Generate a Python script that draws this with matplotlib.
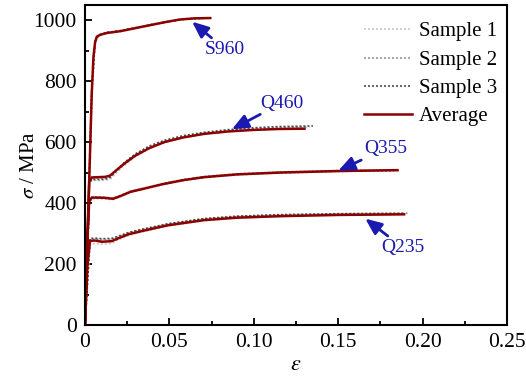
import matplotlib.pyplot as plt
from matplotlib.ticker import MultipleLocator, FixedFormatter, FixedLocator

plt.rcParams['font.family'] = ['Liberation Serif', 'DejaVu Serif']
plt.rcParams['mathtext.fontset'] = 'stix'

# Average curves (strain, stress in MPa)
s960_eps = [0, 0.002, 0.004, 0.005, 0.006, 0.007, 0.009, 0.013, 0.021, 0.030, 0.038, 0.047, 0.056, 0.065, 0.074]
s960_sig = [0, 380, 760, 880, 928, 946, 952, 958, 964, 974, 983, 993, 1002, 1006, 1007]

q460_eps = [0, 0.0015, 0.0025, 0.004, 0.008, 0.012, 0.0148, 0.018, 0.023, 0.0296, 0.038, 0.047, 0.058, 0.0705, 0.085, 0.100, 0.115, 0.130]
q460_sig = [0, 300, 470, 484, 485, 486, 490, 505, 528, 555, 580, 600, 615, 627, 635, 640, 643, 644]

q355_eps = [0, 0.0015, 0.0025, 0.004, 0.008, 0.012, 0.0166, 0.021, 0.027, 0.034, 0.046, 0.058, 0.0705, 0.090, 0.115, 0.150, 0.185]
q355_sig = [0, 290, 405, 418, 418, 417, 414, 423, 437, 446, 462, 475, 485, 494, 500, 505, 508]

q235_eps = [0, 0.0015, 0.003, 0.006, 0.010, 0.0158, 0.020, 0.026, 0.0336, 0.049, 0.0705, 0.090, 0.1155, 0.150, 0.189]
q235_sig = [0, 200, 276, 277, 273, 275, 285, 298, 308, 327, 344, 352, 357, 361, 363]

# Individual specimens (Sample 1, 2, 3)
s960_samples = [
    ([0, 0.002, 0.004, 0.006, 0.008, 0.013, 0.021, 0.030, 0.040, 0.050, 0.060, 0.072],
     [0, 370, 745, 925, 948, 957, 963, 973, 985, 996, 1004, 1006]),
    ([0, 0.002, 0.004, 0.006, 0.008, 0.013, 0.021, 0.030, 0.040, 0.050, 0.060, 0.074],
     [0, 385, 765, 930, 950, 959, 966, 976, 987, 997, 1005, 1008]),
    ([0, 0.002, 0.004, 0.006, 0.008, 0.013, 0.021, 0.030, 0.040, 0.050, 0.060, 0.075],
     [0, 390, 770, 932, 951, 960, 965, 975, 986, 996, 1004, 1007]),
]
q460_samples = [
    ([0, 0.0025, 0.004, 0.008, 0.012, 0.015, 0.018, 0.023, 0.030, 0.038, 0.047, 0.058, 0.0705, 0.085, 0.100, 0.115, 0.133],
     [0, 462, 474, 474, 475, 478, 496, 522, 552, 578, 598, 614, 626, 634, 640, 644, 648]),
    ([0, 0.0025, 0.004, 0.008, 0.012, 0.015, 0.018, 0.023, 0.030, 0.038, 0.047, 0.058, 0.0705, 0.085, 0.100, 0.115, 0.132],
     [0, 470, 480, 481, 482, 486, 502, 528, 557, 582, 602, 617, 629, 638, 644, 648, 650]),
    ([0, 0.0025, 0.004, 0.008, 0.012, 0.015, 0.018, 0.023, 0.030, 0.038, 0.047, 0.058, 0.0705, 0.085, 0.100, 0.115, 0.135],
     [0, 466, 477, 477, 478, 484, 504, 532, 562, 587, 606, 621, 632, 641, 647, 651, 653]),
]
q355_samples = [
    ([0, 0.0025, 0.004, 0.008, 0.012, 0.0166, 0.021, 0.027, 0.034, 0.046, 0.058, 0.0705, 0.090, 0.115, 0.150, 0.183],
     [0, 400, 414, 414, 413, 411, 421, 435, 444, 460, 473, 483, 492, 498, 503, 506]),
    ([0, 0.0025, 0.004, 0.008, 0.012, 0.0166, 0.021, 0.027, 0.034, 0.046, 0.058, 0.0705, 0.090, 0.115, 0.150, 0.186],
     [0, 408, 420, 420, 419, 416, 425, 439, 448, 464, 477, 487, 496, 502, 507, 509]),
    ([0, 0.0025, 0.004, 0.008, 0.012, 0.0166, 0.021, 0.027, 0.034, 0.046, 0.058, 0.0705, 0.090, 0.115, 0.150, 0.187],
     [0, 404, 417, 417, 416, 414, 423, 437, 446, 462, 475, 485, 494, 500, 505, 507]),
]
q235_samples = [
    ([0, 0.003, 0.006, 0.010, 0.0158, 0.020, 0.026, 0.0336, 0.049, 0.0705, 0.090, 0.1155, 0.150, 0.190],
     [0, 266, 267, 265, 267, 280, 294, 305, 324, 342, 351, 356, 361, 364]),
    ([0, 0.003, 0.006, 0.010, 0.0158, 0.020, 0.026, 0.0336, 0.049, 0.0705, 0.090, 0.1155, 0.150, 0.191],
     [0, 280, 282, 280, 281, 290, 302, 312, 331, 348, 356, 361, 365, 367]),
    ([0, 0.003, 0.006, 0.010, 0.0158, 0.020, 0.026, 0.0336, 0.049, 0.0705, 0.090, 0.1155, 0.150, 0.189],
     [0, 284, 285, 283, 284, 292, 304, 314, 332, 349, 357, 362, 365, 366]),
]

sample_names = ['Sample 1', 'Sample 2', 'Sample 3']
sample_colors = ['#c8c8c8', '#969696', '#4a4a4a']
avg_color = '#8b0000'

averages = [(s960_eps, s960_sig), (q460_eps, q460_sig), (q355_eps, q355_sig), (q235_eps, q235_sig)]
samples = [s960_samples, q460_samples, q355_samples, q235_samples]

# grade label: (text position, arrow tip)
grades = ['S960', 'Q460', 'Q355', 'Q235']
label_xy = [(0.083, 905), (0.1165, 728), (0.178, 578), (0.188, 255)]
arrow_xy = [(0.0634, 995), (0.087, 642), (0.150, 506), (0.166, 349)]

fig = plt.figure(figsize=(5.26, 3.79), dpi=100)
ax = fig.add_axes([0.1616, 0.1425, 0.8024, 0.8445])

for grp in samples:
    for i, (e, s) in enumerate(grp):
        ax.plot(e, s, color=sample_colors[i], linestyle=(0, (1.2, 1.2)), linewidth=1.2,
                label=sample_names[i] if grp is samples[0] else None)

for j, (e, s) in enumerate(averages):
    ax.plot(e, s, color=avg_color, linewidth=1.8, label='Average' if j == 0 else None)

for name, txt, tip in zip(grades, label_xy, arrow_xy):
    ax.annotate(name, xy=tip, xytext=txt, color='#1a1ab0', fontsize=14,
                ha='center', va='center',
                arrowprops=dict(arrowstyle='-|>,head_length=0.7,head_width=0.3',
                                color='#1a1ab0', lw=2, shrinkA=0, shrinkB=0))

ax.set_xlim(0, 0.25)
ax.set_ylim(0, 1050)
ax.xaxis.set_major_locator(FixedLocator([0, 0.05, 0.10, 0.15, 0.20, 0.25]))
ax.xaxis.set_major_formatter(FixedFormatter(['0', '0.05', '0.10', '0.15', '0.20', '0.25']))
ax.xaxis.set_minor_locator(MultipleLocator(0.025))
ax.yaxis.set_major_locator(MultipleLocator(200))
ax.yaxis.set_minor_locator(MultipleLocator(100))
ax.tick_params(which='both', direction='in', width=1.3, labelsize=15.5, pad=6)
ax.tick_params(which='major', length=5)
ax.tick_params(which='minor', length=3)
for sp in ax.spines.values():
    sp.set_linewidth(1.5)

ax.set_xlabel(r'$\varepsilon$', fontsize=16, labelpad=3)
ax.set_ylabel(r'$\sigma$ / MPa', fontsize=15, labelpad=-4)

ax.legend(loc='upper right', bbox_to_anchor=(1.006, 0.986), frameon=False, fontsize=15,
          handlelength=2.3, handletextpad=0.35, labelspacing=0.42, borderaxespad=0.2)

fig.savefig('out.png', dpi=100)
